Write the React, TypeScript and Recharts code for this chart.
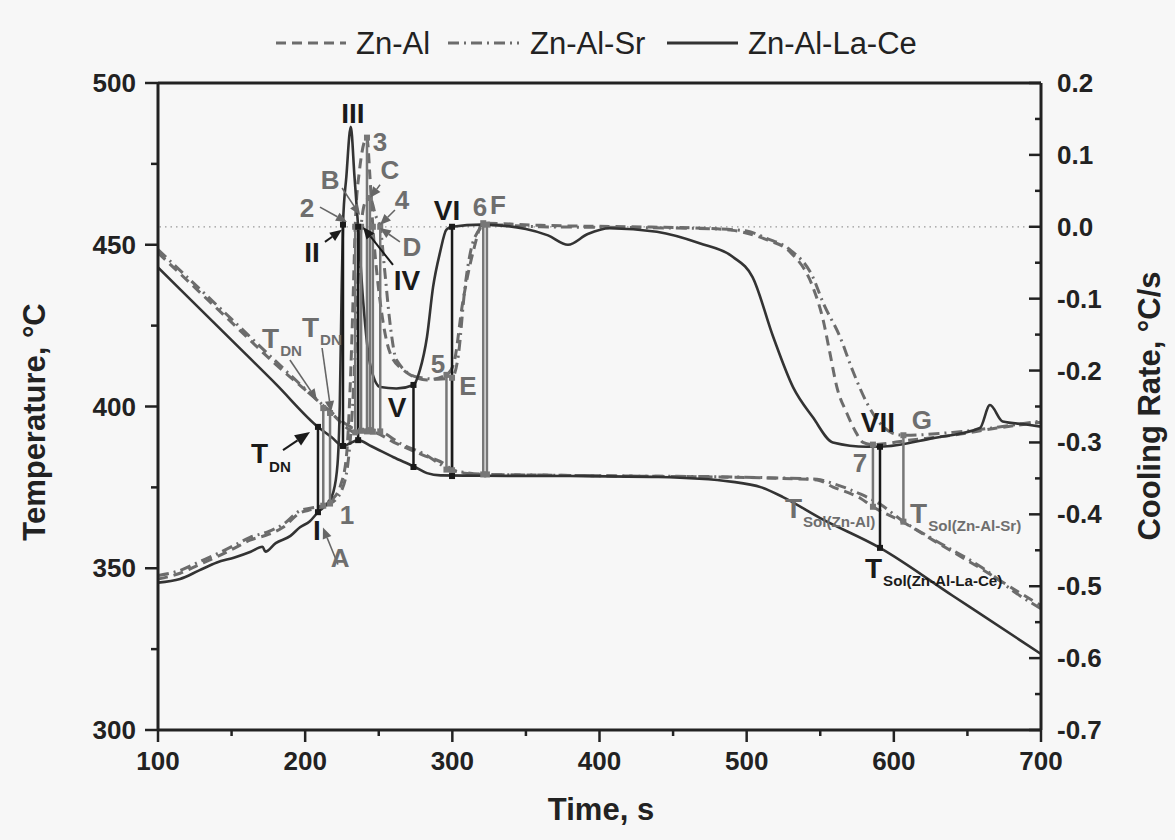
import { LineChart, Line, XAxis, YAxis, ReferenceLine, ReferenceDot } from 'recharts';

// ---- data ----
const timeTicks = [100, 150, 200, 250, 300, 350, 400, 450, 500, 550, 600, 650, 700];
const tempTicks = [300, 325, 350, 375, 400, 425, 450, 475, 500];
const rateTicks = [-0.7, -0.65, -0.6, -0.55, -0.5, -0.45, -0.4, -0.35, -0.3, -0.25, -0.2, -0.15, -0.1, -0.05, 0, 0.05, 0.1, 0.15, 0.2];

const seriesNames = ['Zn-Al', 'Zn-Al-Sr', 'Zn-Al-La-Ce'];

// temperature, °C  [time, value]
const znAlTemp: [number, number][] = [
  [100, 447.5], [150, 426], [180, 413], [208, 402], [220, 397], [228, 393.5], [234, 392], [240, 392.3],
  [247, 392], [260, 389], [280, 385], [293.7, 382.5], [300, 380.5], [310, 379.3], [321, 379], [360, 378.8],
  [420, 378.5], [480, 378.2], [513.5, 377.9], [547.8, 377.3], [558.7, 375.1], [577, 371.7], [585.8, 369],
  [606, 364.3], [626.6, 358.7], [660.6, 349.5], [685.7, 342.4], [700, 338.5],
];
const znAlSrTemp: [number, number][] = [
  [100, 448.5], [150, 427], [180, 414], [217.6, 398.3], [228, 394.5], [238, 392.5], [244, 392.8], [251, 392.3],
  [265, 388.5], [280, 385.5], [299.8, 380.3], [310, 379.5], [323.5, 379], [360, 378.8], [420, 378.5],
  [480, 378.3], [513.5, 378], [547.8, 377.5], [560, 376], [577, 373], [590, 370], [606, 364.6],
  [626.6, 359], [660.6, 350], [685.7, 341.5], [700, 337.5],
];
const laCeTemp: [number, number][] = [
  [100, 443], [150, 420.5], [180, 407], [208.7, 393.7], [218, 390.5], [225.7, 387.8], [230, 388.5],
  [236, 389.6], [245, 387.7], [260, 384.3], [274.6, 381.3], [282.8, 379.4], [292, 378.7], [320, 378.6],
  [380, 378.5], [440, 378.2], [490.7, 376.7], [510, 375], [524.7, 372], [550, 365.5], [590.6, 356.3],
  [640, 341.5], [685.7, 327.8], [700, 323.5],
];

// cooling rate, °C/s  [time, value]
const znAlRate: [number, number][] = [
  [100, -0.49], [115, -0.482], [128, -0.47], [140, -0.459], [152, -0.447], [162.5, -0.436], [175, -0.428],
  [185, -0.418], [196.5, -0.398], [205, -0.393], [212.3, -0.388], [218, -0.38], [224, -0.36], [228, -0.32],
  [231, -0.2], [233, -0.07], [234, 0], [237, 0.08], [242, 0.124], [244, 0.07], [246, 0], [249, -0.07],
  [252, -0.12], [257.6, -0.175], [266.5, -0.199], [282.8, -0.213], [296, -0.206], [301, -0.19], [307, -0.106],
  [314, -0.036], [321, 0.005], [360, 0.002], [420, 0], [470, -0.002], [490.7, -0.005], [513.5, -0.018],
  [529.5, -0.035], [545, -0.084], [552, -0.13], [556.6, -0.176], [561.3, -0.223], [568, -0.259], [574, -0.285],
  [579, -0.3], [585.8, -0.303], [610, -0.297], [640, -0.29], [670, -0.28], [700, -0.272],
];
const znAlSrRate: [number, number][] = [
  [100, -0.485], [115, -0.478], [128, -0.466], [140, -0.455], [152, -0.443], [162.5, -0.432], [175, -0.424],
  [185, -0.414], [196.5, -0.395], [207, -0.39], [216.9, -0.385], [224, -0.37], [229, -0.33], [233, -0.22],
  [236, -0.07], [238, 0], [241, 0.035], [244, 0.04], [248, 0.015], [251, 0], [254, -0.06], [258, -0.14],
  [262, -0.185], [276, -0.209], [290, -0.212], [299.8, -0.21], [304, -0.18], [308.6, -0.084], [315.4, -0.014],
  [323.5, 0.003], [360, 0], [420, -0.001], [480, -0.003], [500, -0.006], [513.5, -0.016], [529.5, -0.032],
  [545, -0.07], [552, -0.106], [563.4, -0.153], [572, -0.2], [581.7, -0.245], [590, -0.272], [599, -0.287],
  [606.5, -0.29], [640, -0.286], [670, -0.279], [700, -0.27],
];
const laCeRate: [number, number][] = [
  [100, -0.495], [115, -0.49], [128, -0.478], [140, -0.467], [152, -0.46], [163, -0.452], [171, -0.445],
  [173, -0.452], [180, -0.44], [190, -0.43], [196.5, -0.418], [203, -0.41], [208.7, -0.397], [215, -0.385],
  [219, -0.37], [222, -0.33], [223.5, -0.25], [224.7, -0.1], [225.7, 0.003], [228, 0.07], [231, 0.139],
  [233.5, 0.07], [236, 0], [239.5, -0.106], [244, -0.19], [251, -0.223], [262, -0.225], [273.6, -0.22],
  [278, -0.199], [282.8, -0.153], [286.9, -0.084], [291.6, -0.036], [296, -0.004], [299.8, 0], [320, 0.003],
  [350, -0.003], [365, -0.012], [378.6, -0.025], [392, -0.01], [407, -0.002], [439, -0.007], [468, -0.023],
  [490.7, -0.042], [504, -0.07], [518, -0.153], [531.5, -0.223], [545, -0.265], [558.6, -0.3], [581.7, -0.306],
  [590.6, -0.306], [626.6, -0.294], [658.5, -0.28], [665.3, -0.248], [674, -0.271], [690, -0.275], [700, -0.278],
];

// characteristic points: [time, cooling rate, temperature]
const laCeMarks: [number, number, number][] = [
  [208.7, -0.397, 393.7], [225.7, 0.003, 387.8], [236, 0, 389.6], [273.6, -0.22, 381.3], [299.8, 0, 378.5],
  [590.6, -0.306, 356.3],
];
const greyMarks: [number, number, number][] = [
  [212.3, -0.388, 399.5], [216.9, -0.385, 398], [234, 0, 392], [238, 0, 392.5], [242, 0.124, 392.3],
  [244, 0.04, 392.7], [246, 0, 392.2], [251, 0, 392.3], [296, -0.206, 380.5], [299.8, -0.21, 380.3],
  [321, 0.005, 379], [323.5, 0.003, 379], [585.8, -0.303, 369], [606.5, -0.29, 364.4],
];

// text labels: [text, subscript, time, temperature]
const blackTags: [string, string, number, number][] = [
  ['III', '', 232.5, 490.7], ['VI', '', 296.4, 460.7], ['II', '', 204.6, 447.8], ['IV', '', 269.2, 439.1],
  ['V', '', 262.4, 399.8], ['I', '', 208, 361.8], ['VII', '', 589.2, 395.2], ['T', 'DN', 163.2, 385.6],
  ['T', 'Sol(Zn-Al-La-Ce)', 580.4, 350.1],
];
const greyTags: [string, string, number, number][] = [
  ['3', '', 250.8, 481.8], ['B', '', 216.9, 470], ['C', '', 257.6, 473.1], ['2', '', 201.2, 461.4],
  ['4', '', 265.8, 463.8], ['6', '', 318.8, 461.7], ['F', '', 331, 462.3], ['D', '', 272.6, 449.3],
  ['5', '', 290.3, 413.4], ['E', '', 310.6, 406.6], ['1', '', 228.4, 366.5], ['A', '', 223.7, 353.2],
  ['G', '', 619.1, 395.8], ['7', '', 577, 382.5], ['T', 'DN', 170.7, 421.2], ['T', 'DN', 197.8, 424.6],
  ['T', 'Sol(Zn-Al)', 526, 368.6], ['T', 'Sol(Zn-Al-Sr)', 611, 367.1],
];

// arrows: tip [time, temperature], tail offset in px
const blackArrows: [number, number, number, number][] = [
  [203.3, 392.1, -27, 18], [225, 454.6, -17, 12], [239.3, 455.5, 30, 38],
];
const greyArrows: [number, number, number, number][] = [
  [208, 402, -27, -40], [217.6, 398.3, -9, -64], [228.4, 457, -27, -15], [237.3, 459.2, -18, -27],
  [244.1, 464.5, 10, -13], [250.8, 456.1, 15, -15], [250.8, 455.2, 20, 14], [212.1, 362.6, 15, 37],
];

// ---- styles ----
const FONT = "'Liberation Sans', Arial, Helvetica, sans-serif";
const AXIS = '#222';
const DARK = '#333';
const GREY = '#6c6c6c';
const BG = '#f7f7f7';
const dashZnAl = '10 6';
const dashSr = '11 5 2 5';

const toPoints = (pairs: [number, number][]) => pairs.map(([t, v]) => ({ t, v }));
const rateOnTempAxis = (r: number) => 300 + ((r + 0.7) / 0.9) * 200;

function TimeTick(props: any) {
  const { x, y, payload } = props;
  const major = payload.value % 100 === 0;
  return (
    <g>
      <line x1={x} y1={y} x2={x} y2={y + (major ? 12 : 6)} stroke={AXIS} strokeWidth={2.5} />
      {major && (
        <text x={x} y={y + 40} textAnchor="middle" fontSize={26} fontWeight={700} fontFamily={FONT} fill={AXIS}>
          {payload.value}
        </text>
      )}
    </g>
  );
}

function TempTick(props: any) {
  const { x, y, payload } = props;
  const major = payload.value % 50 === 0;
  return (
    <g>
      <line x1={x - (major ? 13 : 7)} y1={y} x2={x} y2={y} stroke={AXIS} strokeWidth={2.5} />
      {major && (
        <text x={x - 22} y={y + 9} textAnchor="end" fontSize={26} fontWeight={700} fontFamily={FONT} fill={AXIS}>
          {payload.value}
        </text>
      )}
    </g>
  );
}

function RateTick(props: any) {
  const { x, y, payload } = props;
  const major = Math.round(payload.value * 100) % 10 === 0;
  return (
    <g>
      <line x1={x - (major ? 12 : 6)} y1={y} x2={x} y2={y} stroke={AXIS} strokeWidth={2.5} />
      {major && (
        <text x={x + 16} y={y + 9} textAnchor="start" fontSize={26} fontWeight={700} fontFamily={FONT} fill={AXIS}>
          {Number(payload.value).toFixed(1)}
        </text>
      )}
    </g>
  );
}

function tagContent(text: string, sub: string, ink: string, size: number) {
  return (props: any) => {
    const vb = props.viewBox || {};
    const x = (vb.x ?? 0) + (vb.width ?? 0) / 2;
    const y = (vb.y ?? 0) + (vb.height ?? 0) / 2;
    if (!sub) {
      return (
        <text x={x} y={y + size * 0.36} textAnchor="middle" fontSize={size} fontWeight={700} fontFamily={FONT} fill={ink}>
          {text}
        </text>
      );
    }
    return (
      <text x={x} y={y + size * 0.36} textAnchor="start" fontSize={size} fontWeight={700} fontFamily={FONT} fill={ink}>
        {text}
        <tspan fontSize={size * 0.54} dx={1} dy={size * 0.3}>
          {sub}
        </tspan>
      </text>
    );
  };
}

function arrowShape(dx: number, dy: number, ink: string, head: number, width: number) {
  return (p: any) => {
    const { cx, cy } = p;
    const len = Math.hypot(dx, dy);
    const ux = -dx / len;
    const uy = -dy / len;
    const bx = cx - ux * head;
    const by = cy - uy * head;
    const w = head * 0.42;
    const pts = `${cx},${cy} ${bx - uy * w},${by + ux * w} ${bx + uy * w},${by - ux * w}`;
    return (
      <g>
        <line x1={cx + dx} y1={cy + dy} x2={bx} y2={by} stroke={ink} strokeWidth={width} />
        <polygon points={pts} fill={ink} />
      </g>
    );
  };
}

const squareShape = (ink: string) => (p: any) => (
  <rect x={p.cx - 3} y={p.cy - 3} width={6} height={6} fill={ink} />
);

function markLines(marks: [number, number, number][], ink: string, key: string) {
  return marks.flatMap(([t, r, temp], i) => [
    <ReferenceLine
      key={`${key}-l${i}`}
      yAxisId="left"
      segment={[{ x: t, y: rateOnTempAxis(r) }, { x: t, y: temp }]}
      stroke={ink}
      strokeWidth={2.5}
      ifOverflow="extendDomain"
    />,
    <ReferenceDot key={`${key}-a${i}`} yAxisId="left" x={t} y={rateOnTempAxis(r)} r={1} shape={squareShape(ink)} />,
    <ReferenceDot key={`${key}-b${i}`} yAxisId="left" x={t} y={temp} r={1} shape={squareShape(ink)} />,
  ]);
}

function Legend() {
  const y = 43;
  return (
    <svg width={1175} height={80} style={{ position: 'absolute', left: 0, top: 0 }}>
      <line x1={276} y1={y} x2={346} y2={y} stroke={GREY} strokeWidth={3} strokeDasharray={dashZnAl} />
      <text x={356} y={y + 11} fontSize={31} fontFamily={FONT} fill={AXIS}>{seriesNames[0]}</text>
      <line x1={448} y1={y} x2={519} y2={y} stroke={GREY} strokeWidth={3} strokeDasharray={dashSr} />
      <text x={530} y={y + 11} fontSize={31} fontFamily={FONT} fill={AXIS}>{seriesNames[1]}</text>
      <line x1={667} y1={y} x2={738} y2={y} stroke={DARK} strokeWidth={3} />
      <text x={748} y={y + 11} fontSize={31} fontFamily={FONT} fill={AXIS}>{seriesNames[2]}</text>
    </svg>
  );
}

function Titles() {
  return (
    <svg width={1175} height={840} style={{ position: 'absolute', left: 0, top: 0, pointerEvents: 'none' }}>
      <text x={601} y={820} textAnchor="middle" fontSize={31} fontWeight={700} fontFamily={FONT} fill={AXIS}>
        Time, s
      </text>
      <text x={45} y={422} transform="rotate(-90 45 422)" textAnchor="middle" fontSize={31} fontWeight={700} fontFamily={FONT} fill={AXIS}>
        Temperature, °C
      </text>
      <text x={1160} y={406} transform="rotate(-90 1160 406)" textAnchor="middle" fontSize={31} fontWeight={700} fontFamily={FONT} fill={AXIS}>
        Cooling Rate, °C/s
      </text>
    </svg>
  );
}

export default function App() {
  return (
    <div style={{ position: 'absolute', left: 0, top: 0, width: 1175, height: 840, background: BG }}>
      <LineChart width={1175} height={840} margin={{ top: 83, right: 0, bottom: 0, left: 0 }}>
        <XAxis
          dataKey="t"
          type="number"
          domain={[100, 700]}
          ticks={timeTicks}
          interval={0}
          height={110}
          tickSize={0}
          tickMargin={0}
          tickLine={false}
          tick={<TimeTick />}
          axisLine={{ stroke: AXIS, strokeWidth: 3 }}
          allowDataOverflow
        />
        <YAxis
          yAxisId="left"
          type="number"
          domain={[300, 500]}
          ticks={tempTicks}
          interval={0}
          width={158}
          tickSize={0}
          tickMargin={0}
          tickLine={false}
          tick={<TempTick />}
          axisLine={{ stroke: AXIS, strokeWidth: 3 }}
          allowDataOverflow
        />
        <YAxis
          yAxisId="right"
          orientation="right"
          type="number"
          domain={[-0.7, 0.2]}
          ticks={rateTicks}
          interval={0}
          width={134}
          tickSize={0}
          tickMargin={0}
          tickLine={false}
          tick={<RateTick />}
          axisLine={{ stroke: AXIS, strokeWidth: 3 }}
          allowDataOverflow
        />
        <ReferenceLine yAxisId="left" y={500} stroke={AXIS} strokeWidth={3} />
        <ReferenceLine yAxisId="right" y={0} stroke="#999" strokeWidth={1.2} strokeDasharray="1.5 4" />

        <Line yAxisId="left" data={toPoints(znAlTemp)} dataKey="v" type="monotone" stroke={GREY} strokeWidth={3} strokeDasharray={dashZnAl} dot={false} isAnimationActive={false} />
        <Line yAxisId="left" data={toPoints(znAlSrTemp)} dataKey="v" type="monotone" stroke={GREY} strokeWidth={3} strokeDasharray={dashSr} dot={false} isAnimationActive={false} />
        <Line yAxisId="right" data={toPoints(znAlRate)} dataKey="v" type="monotone" stroke={GREY} strokeWidth={3} strokeDasharray={dashZnAl} dot={false} isAnimationActive={false} />
        <Line yAxisId="right" data={toPoints(znAlSrRate)} dataKey="v" type="monotone" stroke={GREY} strokeWidth={3} strokeDasharray={dashSr} dot={false} isAnimationActive={false} />
        <Line yAxisId="left" data={toPoints(laCeTemp)} dataKey="v" type="monotone" stroke={DARK} strokeWidth={2.6} dot={false} isAnimationActive={false} />
        <Line yAxisId="right" data={toPoints(laCeRate)} dataKey="v" type="monotone" stroke={DARK} strokeWidth={2.6} dot={false} isAnimationActive={false} />

        {markLines(greyMarks, '#777', 'g')}
        {markLines(laCeMarks, '#1a1a1a', 'k')}

        {greyArrows.map(([t, temp, dx, dy], i) => (
          <ReferenceDot key={`ga${i}`} yAxisId="left" x={t} y={temp} r={1} shape={arrowShape(dx, dy, '#666', 11, 1.6)} />
        ))}
        {blackArrows.map(([t, temp, dx, dy], i) => (
          <ReferenceDot key={`ka${i}`} yAxisId="left" x={t} y={temp} r={1} shape={arrowShape(dx, dy, '#1a1a1a', i === 0 ? 15 : 12, 2)} />
        ))}

        {greyTags.map(([text, sub, t, temp], i) => (
          <ReferenceDot key={`gt${i}`} yAxisId="left" x={t} y={temp} r={0} fill="none" stroke="none" label={tagContent(text, sub, '#6e6e6e', sub ? 28 : 26)} />
        ))}
        {blackTags.map(([text, sub, t, temp], i) => (
          <ReferenceDot key={`kt${i}`} yAxisId="left" x={t} y={temp} r={0} fill="none" stroke="none" label={tagContent(text, sub, '#1a1a1a', 28)} />
        ))}
      </LineChart>
      <Legend />
      <Titles />
    </div>
  );
}
